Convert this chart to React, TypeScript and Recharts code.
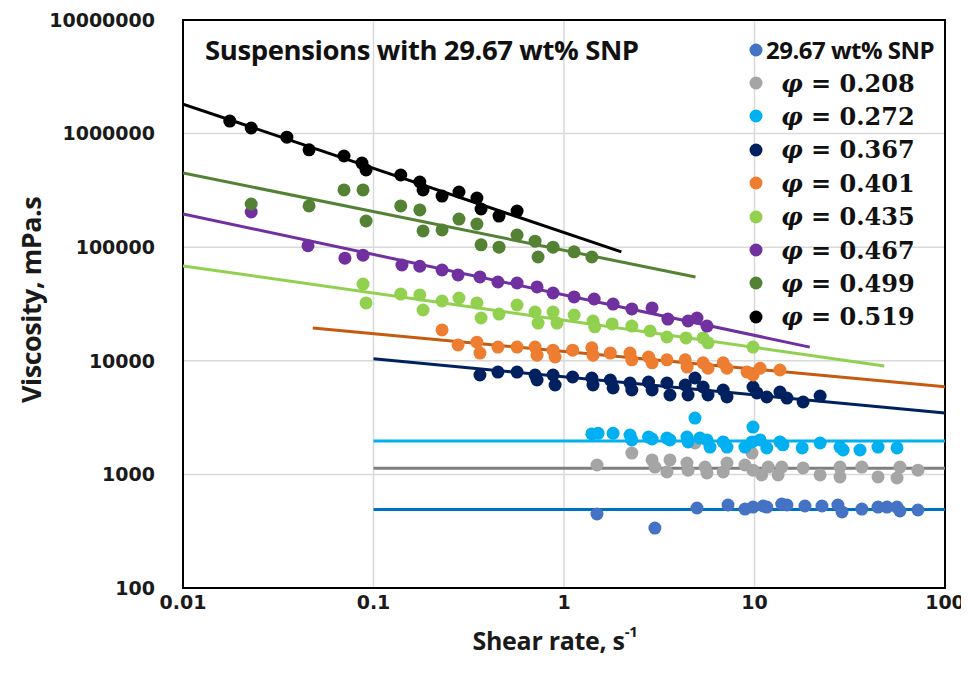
import React from 'react';
import { ScatterChart, Scatter, XAxis, YAxis, CartesianGrid, Legend, ReferenceArea } from 'recharts';

type Pt = [number, number];

const xTicks = [0.01, 0.1, 1, 10, 100];
const yTicks = [100, 1000, 10000, 100000, 1000000, 10000000];

// measured points: [shear rate 1/s, viscosity mPa.s]
const snp: Pt[] = [
  [1.49, 448], [3.0, 337], [4.99, 506], [7.26, 538], [8.91, 495], [9.82, 516], [11.1, 527], [11.6, 516],
  [13.9, 548], [14.8, 538], [18.4, 527], [22.6, 527], [27.4, 538], [28.8, 467], [36.6, 495], [44.5, 516],
  [49.6, 516], [56.0, 516], [58.0, 476], [72.1, 486],
];
const phi208: Pt[] = [
  [1.49, 1210], [2.27, 1540], [2.9, 1340], [3.0, 1160], [3.47, 1050], [3.6, 1340], [4.42, 1260], [4.48, 1090],
  [4.87, 1890], [5.5, 1160], [5.63, 1030], [6.85, 1050], [7.17, 1260], [8.91, 1210], [9.7, 1540], [9.82, 1090],
  [10.9, 990], [11.8, 1160], [13.3, 990], [13.9, 1160], [18.0, 1140], [22.1, 990], [28.1, 1160], [28.1, 950],
  [36.6, 1160], [44.5, 950], [56.0, 930], [58.0, 1160], [72.1, 1090],
];
const phi272: Pt[] = [
  [1.4, 2270], [1.51, 2300], [1.81, 2300], [2.22, 2220], [2.27, 2010], [2.78, 2130], [2.9, 2050], [3.47, 2090],
  [3.6, 2010], [4.42, 2130], [4.48, 1930], [4.87, 3130], [5.17, 2090], [5.63, 2010], [5.84, 1740], [6.85, 1930],
  [7.17, 1740], [8.91, 1740], [9.7, 1930], [9.82, 2610], [10.7, 2010], [11.6, 1710], [13.6, 1930], [14.1, 1820],
  [17.8, 1710], [22.1, 1890], [28.1, 1740], [29.2, 1640], [35.8, 1640], [44.5, 1740], [56.0, 1710],
];
const phi367: Pt[] = [
  [0.362, 7500], [0.45, 7960], [0.567, 7960], [0.705, 7500], [0.722, 6780], [0.876, 7500], [0.898, 6120],
  [1.11, 7200], [1.4, 7060], [1.42, 6120], [1.75, 6780], [1.81, 5770], [2.22, 6380], [2.27, 5530], [2.78, 6500],
  [2.9, 5530], [3.47, 6380], [3.6, 5000], [4.33, 6120], [4.48, 5000], [4.87, 7060], [5.37, 5880], [5.7, 5000],
  [6.85, 5530], [7.17, 4800], [9.82, 5880], [10.3, 5210], [11.6, 4800], [13.6, 5310], [14.8, 4700], [18.0, 4340],
  [22.1, 4900],
];
const phi401: Pt[] = [
  [0.229, 18700], [0.278, 13800], [0.349, 14600], [0.362, 11700], [0.45, 13200], [0.567, 13200], [0.705, 13200],
  [0.722, 11200], [0.876, 12400], [0.898, 10800], [1.11, 12400], [1.4, 13000], [1.42, 11200], [1.75, 11700],
  [2.22, 11700], [2.27, 10200], [2.78, 10800], [2.9, 9600], [3.47, 10200], [4.33, 10200], [4.43, 8800],
  [5.37, 9600], [5.7, 8600], [6.85, 9600], [7.17, 8600], [9.14, 7960], [9.82, 7500], [10.7, 8600], [13.6, 8300],
];
const phi435: Pt[] = [
  [0.0881, 47400], [0.0914, 32300], [0.139, 38700], [0.175, 38000], [0.182, 28000], [0.229, 33600],
  [0.281, 35700], [0.349, 32300], [0.367, 23800], [0.456, 25800], [0.567, 31000], [0.705, 26900],
  [0.731, 21500], [0.876, 26900], [0.919, 21500], [1.13, 25300], [1.42, 22400], [1.45, 19900], [1.79, 21100],
  [2.27, 20200], [2.83, 18300], [3.47, 16200], [4.37, 15900], [5.37, 15900], [5.7, 14400], [9.82, 13200],
];
const phi467: Pt[] = [
  [0.0228, 204000], [0.0453, 103000], [0.0708, 80000], [0.0881, 85000], [0.141, 69700], [0.175, 68000],
  [0.229, 63000], [0.278, 57000], [0.362, 54700], [0.45, 49400], [0.567, 48400], [0.722, 44700],
  [0.876, 39500], [1.13, 36500], [1.44, 35000], [1.81, 31600], [2.27, 28600], [2.9, 29200], [3.51, 23300],
  [4.48, 22400], [4.99, 23800], [5.63, 20200],
];
const phi499: Pt[] = [
  [0.0228, 240000], [0.0459, 231000], [0.07, 319000], [0.0881, 319000], [0.0914, 170000], [0.139, 231000],
  [0.175, 213000], [0.182, 139000], [0.229, 142000], [0.281, 177000], [0.349, 160000], [0.367, 105000],
  [0.456, 100000], [0.567, 128000], [0.705, 113000], [0.731, 82000], [0.876, 100000], [1.13, 91000],
  [1.4, 82000],
];
const phi519: Pt[] = [
  [0.0176, 1290000], [0.0228, 1120000], [0.0351, 930000], [0.0459, 720000], [0.07, 635000], [0.087, 550000],
  [0.0914, 478000], [0.139, 432000], [0.175, 375000], [0.182, 319000], [0.229, 282000], [0.281, 306000],
  [0.349, 271000], [0.367, 217000], [0.456, 188000], [0.567, 208000],
];

// power-law fit lines, end points
const snpFit: Pt[] = [[0.1, 490], [100, 490]];
const fit208: Pt[] = [[0.1, 1130], [100, 1130]];
const fit272: Pt[] = [[0.1, 1970], [100, 1970]];
const fit367: Pt[] = [[0.1, 10400], [100, 3470]];
const fit401: Pt[] = [[0.048, 19400], [100, 5900]];
const fit435: Pt[] = [[0.01, 68400], [48, 9000]];
const fit467: Pt[] = [[0.01, 196000], [19.5, 13200]];
const fit499: Pt[] = [[0.01, 450000], [4.9, 54700]];
const fit519: Pt[] = [[0.01, 1820000], [2.0, 91000]];

const series = [
  { name: '29.67 wt% SNP', phi: '', color: '#4472C4', lineColor: '#0070C0', pts: snp, fit: snpFit },
  { name: 'phi 0.208', phi: '0.208', color: '#A5A5A5', lineColor: '#7F7F7F', pts: phi208, fit: fit208 },
  { name: 'phi 0.272', phi: '0.272', color: '#00B0F0', lineColor: '#00B0F0', pts: phi272, fit: fit272 },
  { name: 'phi 0.367', phi: '0.367', color: '#002060', lineColor: '#002060', pts: phi367, fit: fit367 },
  { name: 'phi 0.401', phi: '0.401', color: '#ED7D31', lineColor: '#C55A11', pts: phi401, fit: fit401 },
  { name: 'phi 0.435', phi: '0.435', color: '#92D050', lineColor: '#92D050', pts: phi435, fit: fit435 },
  { name: 'phi 0.467', phi: '0.467', color: '#7030A0', lineColor: '#7030A0', pts: phi467, fit: fit467 },
  { name: 'phi 0.499', phi: '0.499', color: '#548235', lineColor: '#548235', pts: phi499, fit: fit499 },
  { name: 'phi 0.519', phi: '0.519', color: '#000000', lineColor: '#000000', pts: phi519, fit: fit519 },
];

const toXY = (p: Pt[]) => p.map(([x, y]) => ({ x, y }));

const dot = (color: string) => (props: any) => <circle cx={props.cx} cy={props.cy} r={6.5} fill={color} />;
const noDot = () => <g />;

const tickFont = { fontFamily: 'DejaVu Sans', fontWeight: 'bold', fontSize: 19, fill: '#1a1a1a' } as const;

function LegendBox() {
  return (
    <div>
      {series.map((s, i) => (
        <div key={s.name} style={{ height: 33.4, display: 'flex', alignItems: 'center' }}>
          <svg width={14} height={14} style={{ flex: 'none' }}>
            <circle cx={7} cy={7} r={6.5} fill={s.color} />
          </svg>
          {i === 0 ? (
            <span style={{ marginLeft: 3, fontFamily: 'Open Sans', fontWeight: 'bold', fontSize: 24, letterSpacing: -0.5, color: '#111', whiteSpace: 'nowrap' }}>
              29.67 wt% SNP
            </span>
          ) : (
            <span style={{ marginLeft: 18, fontFamily: 'DejaVu Serif', fontWeight: 'bold', fontSize: 24, color: '#111', whiteSpace: 'nowrap' }}>
              <i>φ</i> = {s.phi}
            </span>
          )}
        </div>
      ))}
    </div>
  );
}

function YTitle(props: any) {
  const { viewBox } = props;
  const cx = 22;
  const cy = viewBox.y + viewBox.height / 2 - 4;
  return (
    <text x={cx} y={cy} transform={`rotate(-90, ${cx}, ${cy})`} textAnchor="middle" dominantBaseline="central"
      style={{ fontFamily: 'Open Sans', fontWeight: 'bold', fontSize: 27, letterSpacing: -0.5, fill: '#1a1a1a' }}>
      Viscosity, mPa.s
    </text>
  );
}

function XTitle(props: any) {
  const { viewBox } = props;
  const cx = viewBox.x + viewBox.width / 2 - 9;
  return (
    <text x={cx} y={632} textAnchor="middle" dominantBaseline="central"
      style={{ fontFamily: 'Open Sans', fontWeight: 'bold', fontSize: 25, letterSpacing: -0.3, fill: '#1a1a1a' }}>
      Shear rate, s<tspan dy={-9} fontSize={15}>-1</tspan>
    </text>
  );
}

export default function App() {
  return (
    <div style={{ position: 'relative', width: 961, height: 673 }}>
      <ScatterChart width={961} height={673} margin={{ top: 12, right: 24, left: 0, bottom: 33 }}>
        <CartesianGrid stroke="#d9d9d9" strokeWidth={1.5} />
        <XAxis
          dataKey="x"
          type="number"
          scale="log"
          domain={[0.01, 100]}
          ticks={xTicks}
          allowDataOverflow
          height={60}
          tickLine={false}
          axisLine={false}
          tick={tickFont}
          tickFormatter={(v: number) => String(v)}
          label={<XTitle />}
        />
        <YAxis
          dataKey="y"
          type="number"
          scale="log"
          domain={[100, 10000000]}
          ticks={yTicks}
          allowDataOverflow
          width={175}
          tickLine={false}
          axisLine={false}
          tickMargin={22}
          tick={tickFont}
          tickFormatter={(v: number) => String(v)}
          label={<YTitle />}
        />
        <ReferenceArea x1={0.01} x2={100} y1={100} y2={10000000} fill="none" stroke="#000" strokeWidth={2} ifOverflow="visible" />
        {series.map((s) => (
          <Scatter
            key={s.name + '-fit'}
            data={toXY(s.fit)}
            line={{ stroke: s.lineColor, strokeWidth: 3 }}
            shape={noDot}
            legendType="none"
            isAnimationActive={false}
          />
        ))}
        {series.map((s) => (
          <Scatter key={s.name} name={s.name} data={toXY(s.pts)} shape={dot(s.color)} isAnimationActive={false} />
        ))}
        <Legend
          layout="vertical"
          align="center"
          verticalAlign="middle"
          content={() => <LegendBox />}
          wrapperStyle={{ position: 'absolute', left: 741, top: 25, width: 215 }}
        />
      </ScatterChart>
      <div style={{ position: 'absolute', left: 197, top: 26, lineHeight: '32px', fontFamily: 'Open Sans', fontWeight: 'bold', fontSize: 27.5, letterSpacing: -0.4, color: '#111', whiteSpace: 'nowrap' }}>
        Suspensions with 29.67 wt% SNP
      </div>
    </div>
  );
}
